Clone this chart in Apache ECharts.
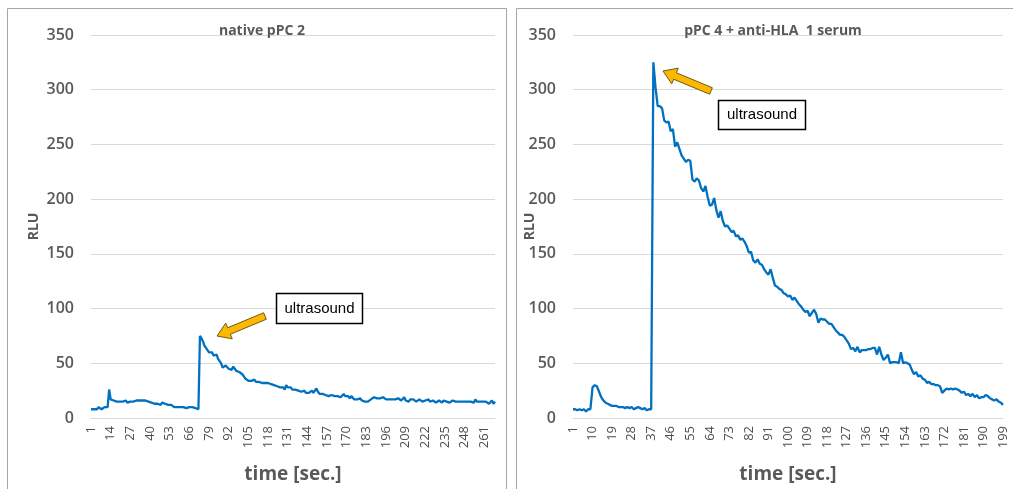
<!DOCTYPE html>
<html>
<head>
<meta charset="utf-8">
<script src="https://cdn.jsdelivr.net/npm/echarts@6/dist/echarts.min.js"></script>
<style>
html,body{margin:0;padding:0;background:#fff;}
#chart{width:1013px;height:489px;}
</style>
</head>
<body>
<div id="chart"></div>
<script>
// ---- data (RLU per second) ----
var leftTitle = 'native pPC 2';
var rightTitle = 'pPC 4 + anti-HLA  1 serum';
var yTicks = [0, 50, 100, 150, 200, 250, 300, 350];

var leftRLU = [
  8,9,8,9,8,10,9,8,9,10,
  9,10,26,17,16,16,15,15,14,15,
  14,15,14,16,14,15,15,16,15,14,
  16,15,16,16,16,16,16,16,15,16,
  14,14,13,14,13,13,12,14,13,13,
  12,12,11,12,11,10,11,10,11,10,
  9,10,10,9,10,10,9,10,10,9,
  8,8,75,73,70,66,64,62,60,59,
  60,57,56,58,54,55,50,46,45,48,
  49,45,46,44,47,45,43,44,42,43,
  40,38,36,35,34,35,34,34,35,33,
  33,33,34,32,33,32,33,32,31,31,
  30,30,31,29,28,28,27,28,26,30,
  28,27,28,26,27,26,26,25,26,24,
  24,25,23,23,23,24,25,23,24,27,
  24,22,23,22,21,21,22,20,20,21,
  20,20,19,20,20,19,20,22,20,19,
  20,18,20,19,17,18,17,16,18,16,
  17,15,14,15,16,17,18,19,19,18,
  19,18,18,19,18,17,18,17,18,17,
  18,17,16,18,17,16,17,19,16,17,
  15,17,16,17,16,15,16,17,16,15,
  14,16,15,17,15,14,16,15,14,15,
  16,15,14,16,15,15,16,14,15,16,
  15,15,16,15,14,15,16,15,14,15,
  16,15,15,14,17,15,16,15,14,15,
  14,15,14,13,14,16,13,15
];

var rightRLU = [
  8,8,7,8,7,8,6,8,8,28,
  30,29,24,19,16,14,13,12,11,11,
  11,10,10,10,9,10,9,10,8,9,
  10,9,8,9,7,8,8,325,302,285,
  285,283,272,270,271,262,264,248,252,246,
  240,237,234,236,235,218,216,219,217,210,
  207,212,202,194,195,201,190,183,189,180,
  175,176,173,170,171,166,167,163,164,161,
  157,151,152,144,142,145,141,140,136,133,
  131,136,128,121,120,118,117,114,113,111,
  112,108,110,107,104,102,99,97,98,93,
  96,99,95,87,91,90,90,88,86,86,
  83,80,78,76,76,74,71,68,63,64,
  61,65,60,62,62,62,63,63,64,64,
  58,65,58,53,55,58,50,51,51,51,
  50,60,50,51,50,49,44,40,42,38,
  39,36,35,32,33,31,31,30,30,29,
  23,25,27,26,27,26,27,26,25,23,
  24,21,22,20,22,19,21,18,19,19,
  21,20,18,17,16,17,15,14,12
];

var leftTimes = leftRLU.map(function (v, i) { return String(i + 1); });
var rightTimes = rightRLU.map(function (v, i) { return String(i + 1); });

// ---- styling helpers ----
var grey = '#595959';
var gridGrey = '#d9d9d9';
var lineBlue = '#0070C0';
var fam = '"Open Sans", "Noto Sans", sans-serif';

function arrowPoints(tail, tip, shaftW, headW, headL) {
  var dx = tip[0] - tail[0], dy = tip[1] - tail[1];
  var len = Math.sqrt(dx * dx + dy * dy);
  var ux = dx / len, uy = dy / len;
  var nx = -uy, ny = ux;
  var bx = tip[0] - ux * headL, by = tip[1] - uy * headL;
  return [
    [tail[0] + nx * shaftW / 2, tail[1] + ny * shaftW / 2],
    [bx + nx * shaftW / 2, by + ny * shaftW / 2],
    [bx + nx * headW / 2, by + ny * headW / 2],
    tip,
    [bx - nx * headW / 2, by - ny * headW / 2],
    [bx - nx * shaftW / 2, by - ny * shaftW / 2],
    [tail[0] - nx * shaftW / 2, tail[1] - ny * shaftW / 2]
  ];
}

function xAxisCfg(idx, cats, interval) {
  return {
    type: 'category', gridIndex: idx, data: cats, boundaryGap: false,
    name: 'time [sec.]', nameLocation: 'middle', nameGap: 47,
    nameTextStyle: { fontFamily: fam, fontWeight: 'bold', fontSize: 19, color: grey },
    axisLine: { show: true, lineStyle: { color: gridGrey, width: 1 } },
    axisTick: { show: false },
    axisLabel: { interval: interval, rotate: 90, fontFamily: fam, fontSize: 13, color: '#4d4d4d', margin: 8 },
    splitLine: { show: false }
  };
}
function yAxisCfg(idx, nameGap) {
  return {
    type: 'value', gridIndex: idx, min: yTicks[0], max: yTicks[yTicks.length - 1], interval: 50,
    name: 'RLU', nameLocation: 'middle', nameGap: nameGap, nameRotate: 90, nameMoveOverlap: false,
    nameTextStyle: { fontFamily: fam, fontWeight: 'bold', fontSize: 14, color: grey },
    axisLine: { show: false }, axisTick: { show: false },
    axisLabel: { fontFamily: fam, fontSize: 16, fontWeight: 600, color: grey, margin: 17 },
    splitLine: { lineStyle: { color: gridGrey, width: 1 } }
  };
}

var chart = echarts.init(document.getElementById('chart'), null, { renderer: 'canvas' });
chart.setOption({
  animation: false,
  backgroundColor: '#ffffff',
  title: [
    { text: leftTitle, left: 257, top: 19, textAlign: 'center',
      textStyle: { fontFamily: fam, fontWeight: 'bold', fontSize: 14, color: grey } },
    { text: rightTitle, left: 768, top: 19, textAlign: 'center',
      textStyle: { fontFamily: fam, fontWeight: 'bold', fontSize: 14, color: grey } }
  ],
  grid: [
    { left: 91, right: 1013 - 495, top: 35, bottom: 489 - 421, containLabel: false },
    { left: 573, right: 10, top: 35, bottom: 489 - 423, containLabel: false }
  ],
  xAxis: [xAxisCfg(0, leftTimes, 12), xAxisCfg(1, rightTimes, 8)],
  yAxis: [yAxisCfg(0, 50), yAxisCfg(1, 36)],
  series: [
    { type: 'line', xAxisIndex: 0, yAxisIndex: 0, data: leftRLU, showSymbol: false,
      lineStyle: { color: lineBlue, width: 2.3 }, itemStyle: { color: lineBlue } },
    { type: 'line', xAxisIndex: 1, yAxisIndex: 1, data: rightRLU, showSymbol: false,
      lineStyle: { color: lineBlue, width: 2.3 }, itemStyle: { color: lineBlue } }
  ],
  graphic: [
    { type: 'rect', shape: { x: 7.5, y: 8.5, width: 499, height: 520 }, silent: true, z: -1,
      style: { fill: 'none', stroke: '#a6a6a6', lineWidth: 1 } },
    { type: 'rect', shape: { x: 516.5, y: 8.5, width: 520, height: 520 }, silent: true, z: -1,
      style: { fill: 'none', stroke: '#a6a6a6', lineWidth: 1 } },
    { type: 'polygon', shape: { points: arrowPoints([265, 316], [217, 336], 7, 17, 13) }, z: 10,
      style: { fill: '#FFB800', stroke: '#6e5a16', lineWidth: 1 } },
    { type: 'polygon', shape: { points: arrowPoints([711, 91], [663, 71], 7, 17, 13) }, z: 10,
      style: { fill: '#FFB800', stroke: '#6e5a16', lineWidth: 1 } },
    { type: 'rect', shape: { x: 276.5, y: 293.5, width: 86, height: 30 }, z: 10,
      style: { fill: '#ffffff', stroke: '#000000', lineWidth: 1.5 } },
    { type: 'text', x: 319.5, y: 308.5, z: 11,
      style: { text: 'ultrasound', fill: '#000', font: '15px "Liberation Sans", Arial, sans-serif',
               textAlign: 'center', textVerticalAlign: 'middle' } },
    { type: 'rect', shape: { x: 718.5, y: 100.5, width: 87, height: 29 }, z: 10,
      style: { fill: '#ffffff', stroke: '#000000', lineWidth: 1.5 } },
    { type: 'text', x: 762, y: 115, z: 11,
      style: { text: 'ultrasound', fill: '#000', font: '15px "Liberation Sans", Arial, sans-serif',
               textAlign: 'center', textVerticalAlign: 'middle' } }
  ]
});
</script>
</body>
</html>
